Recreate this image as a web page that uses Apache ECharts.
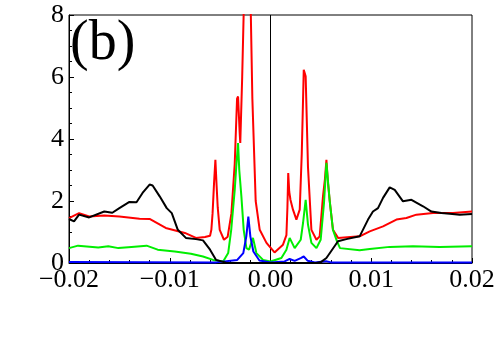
<!DOCTYPE html>
<html>
<head>
<meta charset="utf-8">
<script src="https://cdn.jsdelivr.net/npm/echarts@6/dist/echarts.min.js"></script>
<style>
    html, body { margin: 0; padding: 0; background: #fff; }
    #chart { width: 500px; height: 349px; }
</style>
</head>
<body>
<div id="chart"></div>
<script>
// 曲线数据
const redX = [-0.02, -0.019, -0.018, -0.0165, -0.015, -0.013, -0.012, -0.0104, -0.0085, -0.0074, -0.0065, -0.006,
    -0.00587, -0.00575, -0.0056, -0.00547, -0.00535, -0.00524, -0.00504, -0.00462, -0.00425, -0.00388, -0.00355,
    -0.00332, -0.00322, -0.00306, -0.003, -0.00281, -0.00263, -0.0023, -0.00197, -0.0018, -0.00147, -0.00107, -0.0004,
    0.0004, 0.00124, 0.00158, 0.00168, 0.00176, 0.00186, 0.00198, 0.00223, 0.00257, 0.0029, 0.0031, 0.0033, 0.00349,
    0.00372, 0.00406, 0.00456, 0.00488, 0.00521, 0.0054, 0.00555, 0.0057, 0.00588, 0.0062, 0.0067, 0.00885, 0.00985,
    0.01117, 0.0125, 0.01349, 0.01448, 0.01613, 0.01811, 0.02]
const redY = [1.45, 1.61, 1.5, 1.53, 1.5, 1.43, 1.42, 1.13, 0.97, 0.81, 0.84, 0.88,
    1.07, 1.6, 2.6, 3.33, 2.5, 1.8, 1.07, 0.75, 0.85, 1.6, 3.2,
    5.3, 5.37, 4.2, 3.87, 6.0, 8.5, 12, 8.3, 5.3, 2.0, 1.07, 0.65,
    0.34, 0.59, 0.9, 1.8, 2.9, 2.3, 2.04, 1.72, 1.4, 1.72, 3.5, 6.23, 6.02,
    3.1, 1.07, 0.75, 0.86, 2.15, 2.7, 3.33, 2.6, 2.0, 1.07, 0.81, 0.86, 1.02,
    1.18, 1.4, 1.45, 1.56, 1.61, 1.61, 1.66]

const greenX = [-0.02, -0.0191, -0.0171, -0.0161, -0.0151, -0.0138, -0.0123, -0.0112, -0.0095, -0.0079, -0.0067,
    -0.0057, -0.0047, -0.0042, -0.0039, -0.00355, -0.0034, -0.00322, -0.0031, -0.00289, -0.00266, -0.00239, -0.00213,
    -0.00174, -0.0014, -0.00074, 0, 0.00108, 0.00158, 0.0019, 0.0024, 0.003, 0.00323, 0.00349, 0.00372, 0.00406,
    0.00456, 0.00498, 0.00531, 0.00555, 0.00588, 0.0062, 0.0066, 0.0069, 0.00885, 0.00985, 0.01183, 0.01414, 0.01679, 0.02]
const greenY = [0.48, 0.56, 0.5, 0.54, 0.48, 0.52, 0.56, 0.43, 0.37, 0.3, 0.21,
    0.1, 0.05, 0.32, 1.07, 2.36, 3.1, 3.87, 3.0, 2.15, 1.07, 0.48, 0.43,
    0.81, 0.32, 0.1, 0.05, 0.16, 0.43, 0.81, 0.48, 0.75, 1.29, 2.04, 1.24, 0.65,
    0.48, 0.75, 1.94, 3.23, 1.99, 1.07, 0.7, 0.48, 0.41, 0.45, 0.52, 0.54, 0.52, 0.54]

const blueX = [-0.02, -0.0054, -0.0033, -0.0027, -0.0024, -0.0022, -0.002, -0.0017, -0.0011, 0, 0.0014, 0.0019,
    0.0024, 0.003, 0.0033, 0.0037, 0.0044, 0.0055, 0.006, 0.02]
const blueY = [0.03, 0.02, 0.1, 0.32, 0.86, 1.5, 0.86, 0.37, 0.08, 0.02, 0.05, 0.13,
    0.07, 0.16, 0.21, 0.07, 0.02, 0.06, 0.02, 0.02]

const blackX = [-0.02, -0.0195, -0.019, -0.018, -0.0165, -0.0157, -0.015, -0.014, -0.0133, -0.0127, -0.012, -0.0117,
    -0.011, -0.0103, -0.0098, -0.0092, -0.0084, -0.0074, -0.0067, -0.006, -0.0054, -0.0044, -0.003, 0, 0.00456, 0.005,
    0.00555, 0.0067, 0.00753, 0.00885, 0.00968, 0.01017, 0.01067, 0.01117, 0.01183, 0.01233, 0.01315, 0.01399, 0.01514,
    0.01597, 0.01696, 0.01779, 0.01878, 0.02]
const blackY = [1.42, 1.34, 1.56, 1.47, 1.66, 1.62, 1.77, 1.97, 1.96, 2.26, 2.53, 2.5,
    2.15, 1.77, 1.61, 1.07, 0.81, 0.77, 0.73, 0.43, 0.1, 0.01, 0, 0, 0, 0.03,
    0.16, 0.7, 0.77, 0.86, 1.4, 1.66, 1.77, 2.1, 2.44, 2.36, 1.99, 2.04, 1.83,
    1.66, 1.61, 1.59, 1.56, 1.58]

// x = 0 处的竖线
const zeroLineX = [0, 0]
const zeroLineY = [0, 8]

const xTicks = [-0.02, -0.01, 0, 0.01, 0.02]
const yTicks = [0, 2, 4, 6, 8]
const panelLabel = '(b)'

const zip = (xs, ys) => xs.map((x, i) => [x, ys[i]])
const fontFamily = '"Liberation Serif", "DejaVu Serif", serif'

const chart = echarts.init(document.getElementById('chart'))

const lineSeries = (name, xs, ys, color, width) => ({
    name: name,
    type: 'line',
    data: zip(xs, ys),
    showSymbol: false,
    smooth: false,
    clip: true,
    lineStyle: { color: color, width: width || 2 },
    itemStyle: { color: color },
    animation: false,
})

const option = {
    animation: false,
    backgroundColor: '#fff',
    grid: {
        left: 69,
        right: 28,
        top: 15,
        bottom: 86,
        show: true,
        borderColor: '#000',
        borderWidth: 1,
    },
    xAxis: {
        type: 'value',
        min: -0.02,
        max: 0.02,
        interval: 0.01,
        splitLine: { show: false },
        axisLine: { onZero: false, lineStyle: { color: '#000', width: 1 } },
        axisTick: { inside: true, length: 5, lineStyle: { color: '#000' } },
        minorTick: { show: true, splitNumber: 5, length: 3, lineStyle: { color: '#000' } },
        axisLabel: {
            color: '#000',
            fontFamily: fontFamily,
            fontSize: 26,
            margin: 4,
            formatter: v => {
                const t = xTicks.find(k => Math.abs(k - v) < 1e-9)
                if (t === undefined) return ''
                return t < 0 ? '\u2212' + Math.abs(t).toFixed(2) : t.toFixed(2)
            },
        },
    },
    yAxis: {
        type: 'value',
        min: 0,
        max: 8,
        interval: 2,
        splitLine: { show: false },
        axisLine: { show: true, onZero: false, lineStyle: { color: '#000', width: 1 } },
        axisTick: { show: true, inside: true, length: 5, lineStyle: { color: '#000' } },
        minorTick: { show: true, splitNumber: 4, length: 3, lineStyle: { color: '#000' } },
        axisLabel: {
            color: '#000',
            fontFamily: fontFamily,
            fontSize: 26,
            margin: 5,
            formatter: v => (yTicks.includes(v) ? String(v) : ''),
        },
    },
    graphic: [
        {
            type: 'text',
            left: 70,
            top: 16,
            z: 10,
            style: {
                text: panelLabel,
                fill: '#000',
                font: '56px "Liberation Serif", serif',
            },
        },
    ],
    series: [
        lineSeries('zero', zeroLineX, zeroLineY, '#000000', 1),
        lineSeries('red', redX, redY, '#ff0000'),
        lineSeries('green', greenX, greenY, '#00ee00'),
        lineSeries('blue', blueX, blueY, '#0000ff'),
        lineSeries('black', blackX, blackY, '#000000'),
    ],
}
option && chart.setOption(option)
</script>
</body>
</html>
